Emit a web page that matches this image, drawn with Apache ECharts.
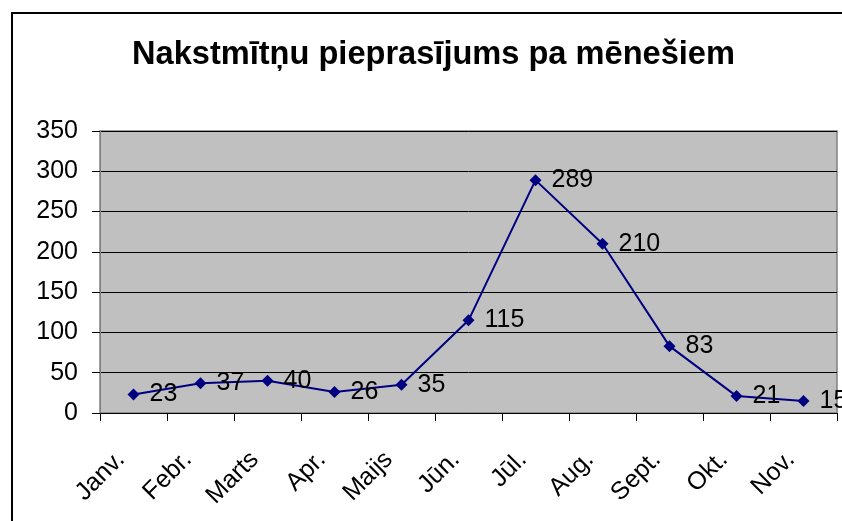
<!DOCTYPE html>
<html>
<head>
<meta charset="utf-8">
<script src="https://cdn.jsdelivr.net/npm/echarts@6/dist/echarts.min.js"></script>
<style>
html,body{margin:0;padding:0;background:#fff;}
#c{width:842px;height:521px;}
</style>
</head>
<body>
<div id="c"></div>
<script>
const titleText = 'Nakstmītņu pieprasījums pa mēnešiem';
const categories = ['Janv.', 'Febr.', 'Marts', 'Apr.', 'Maijs', 'Jūn.', 'Jūl.', 'Aug.', 'Sept.', 'Okt.', 'Nov.'];
const values = [23, 37, 40, 26, 35, 115, 289, 210, 83, 21, 15];
const yTicks = [0, 50, 100, 150, 200, 250, 300, 350];

const FONT = '"Liberation Sans", Arial, sans-serif';
const chart = echarts.init(document.getElementById('c'), null, {renderer: 'canvas'});
chart.setOption({
  animation: false,
  backgroundColor: '#ffffff',
  title: {
    text: titleText,
    left: 132,
    top: 39,
    padding: 0,
    textStyle: {fontFamily: FONT, fontSize: 32.6, fontWeight: 'bold', color: '#000'}
  },
  graphic: [{
    type: 'rect',
    shape: {x: 12, y: 13, width: 900, height: 600},
    style: {fill: 'none', stroke: '#000', lineWidth: 2},
    silent: true
  }],
  grid: {
    left: 100, top: 131, right: 5, bottom: 108,
    show: true, backgroundColor: '#C0C0C0', borderColor: '#808080', borderWidth: 1.5
  },
  xAxis: {
    type: 'category',
    data: categories,
    boundaryGap: true,
    axisLine: {show: true, lineStyle: {color: '#000', width: 1}},
    axisTick: {show: true, length: 8, lineStyle: {color: '#000'}},
    axisLabel: {rotate: 45, margin: 30, padding: [0, 18, 0, 0], fontFamily: FONT, fontSize: 25, color: '#000', interval: 0}
  },
  yAxis: {
    type: 'value',
    min: yTicks[0],
    max: yTicks[yTicks.length - 1],
    interval: yTicks[1] - yTicks[0],
    axisLine: {show: true, lineStyle: {color: '#808080', width: 1}},
    axisTick: {show: true, length: 8, lineStyle: {color: '#000'}},
    axisLabel: {margin: 22, fontFamily: FONT, fontSize: 25, color: '#000'},
    splitLine: {show: true, lineStyle: {color: '#000', width: 1}}
  },
  series: [{
    type: 'line',
    data: values,
    symbol: 'diamond',
    symbolSize: 12,
    itemStyle: {color: '#000080'},
    lineStyle: {color: '#000080', width: 2},
    label: {show: true, position: 'right', distance: 10, fontFamily: FONT, fontSize: 25, color: '#000'},
    clip: false
  }]
});
</script>
</body>
</html>
